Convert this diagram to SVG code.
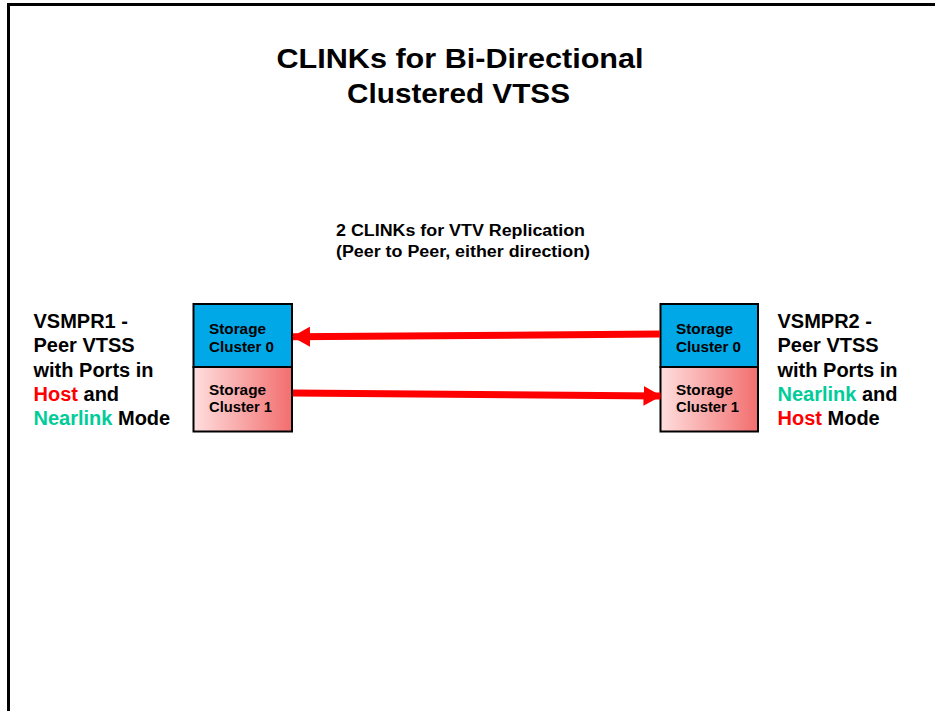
<svg xmlns="http://www.w3.org/2000/svg" width="935" height="711" viewBox="0 0 935 711">
<defs>
<linearGradient id="pink" x1="0" y1="0" x2="1" y2="0">
<stop offset="0" stop-color="#FFDEDE"/>
<stop offset="1" stop-color="#F26E6E"/>
</linearGradient>
<marker id="ah" markerUnits="userSpaceOnUse" markerWidth="18" markerHeight="20" refX="17" refY="10" orient="auto">
<path d="M0,0 L18,10 L0,20 Z" fill="#FF0000"/>
</marker>
</defs>
<style>
text{font-family:"Liberation Sans",Arial,sans-serif;font-weight:bold;fill:#000}
.t{font-size:27px}
.s{font-size:16px}
.l{font-size:20px}
.b{font-size:14px}
.red{fill:#FF0000}
.grn{fill:#00CC99}
.box{stroke:#000;stroke-width:2}
.top{fill:#00A8E8}
.bot{fill:url(#pink)}
.conn{stroke:#FF0000;stroke-width:7;fill:none}
</style>
<rect width="935" height="711" fill="#fff"/>
<path d="M8.5,711 V4.5 H935" fill="none" stroke="#000" stroke-width="3"/>
<g id="title">
<text class="t" x="460" y="67.7" text-anchor="middle" textLength="367" lengthAdjust="spacingAndGlyphs">CLINKs for Bi-Directional</text>
<text class="t" x="458.5" y="103.3" text-anchor="middle" textLength="223" lengthAdjust="spacingAndGlyphs">Clustered VTSS</text>
</g>
<g id="subtitle">
<text class="s" x="336" y="235.7" textLength="249" lengthAdjust="spacingAndGlyphs">2 CLINKs for VTV Replication</text>
<text class="s" x="336" y="256.5" textLength="254" lengthAdjust="spacingAndGlyphs">(Peer to Peer, either direction)</text>
</g>
<g id="vsmpr1-label">
<text class="l" x="33.5" y="327.7">VSMPR1 -</text>
<text class="l" x="33.5" y="352.2">Peer VTSS</text>
<text class="l" x="33.5" y="376.6">with Ports in</text>
<text class="l" x="33.5" y="401"><tspan class="red">Host</tspan> and</text>
<text class="l" x="33.5" y="425.3"><tspan class="grn">Nearlink</tspan> Mode</text>
</g>
<g id="vsmpr2-label">
<text class="l" x="777.5" y="327.7">VSMPR2 -</text>
<text class="l" x="777.5" y="352.2">Peer VTSS</text>
<text class="l" x="777.5" y="376.6">with Ports in</text>
<text class="l" x="777.5" y="401"><tspan class="grn">Nearlink</tspan> and</text>
<text class="l" x="777.5" y="425.3"><tspan class="red">Host</tspan> Mode</text>
</g>
<g id="vtss1-cluster0">
<rect class="box top" x="193.5" y="304" width="98.5" height="63"/>
<text class="b" x="209" y="334.3" textLength="57" lengthAdjust="spacingAndGlyphs">Storage</text>
<text class="b" x="209" y="351.8" textLength="65" lengthAdjust="spacingAndGlyphs">Cluster 0</text>
</g>
<g id="vtss1-cluster1">
<rect class="box bot" x="193.5" y="367" width="98.5" height="64.5"/>
<text class="b" x="209" y="395" textLength="57" lengthAdjust="spacingAndGlyphs">Storage</text>
<text class="b" x="209" y="412.4" textLength="63" lengthAdjust="spacingAndGlyphs">Cluster 1</text>
</g>
<g id="vtss2-cluster0">
<rect class="box top" x="660.5" y="304" width="97.5" height="63"/>
<text class="b" x="676" y="334.3" textLength="57" lengthAdjust="spacingAndGlyphs">Storage</text>
<text class="b" x="676" y="351.8" textLength="65" lengthAdjust="spacingAndGlyphs">Cluster 0</text>
</g>
<g id="vtss2-cluster1">
<rect class="box bot" x="660.5" y="367" width="97.5" height="64.5"/>
<text class="b" x="676" y="395" textLength="57" lengthAdjust="spacingAndGlyphs">Storage</text>
<text class="b" x="676" y="412.4" textLength="63" lengthAdjust="spacingAndGlyphs">Cluster 1</text>
</g>
<g id="connectors">
<line class="conn" x1="660" y1="334" x2="293" y2="336.8" marker-end="url(#ah)"/>
<line class="conn" x1="293" y1="393" x2="660.5" y2="396" marker-end="url(#ah)"/>
</g>
</svg>
